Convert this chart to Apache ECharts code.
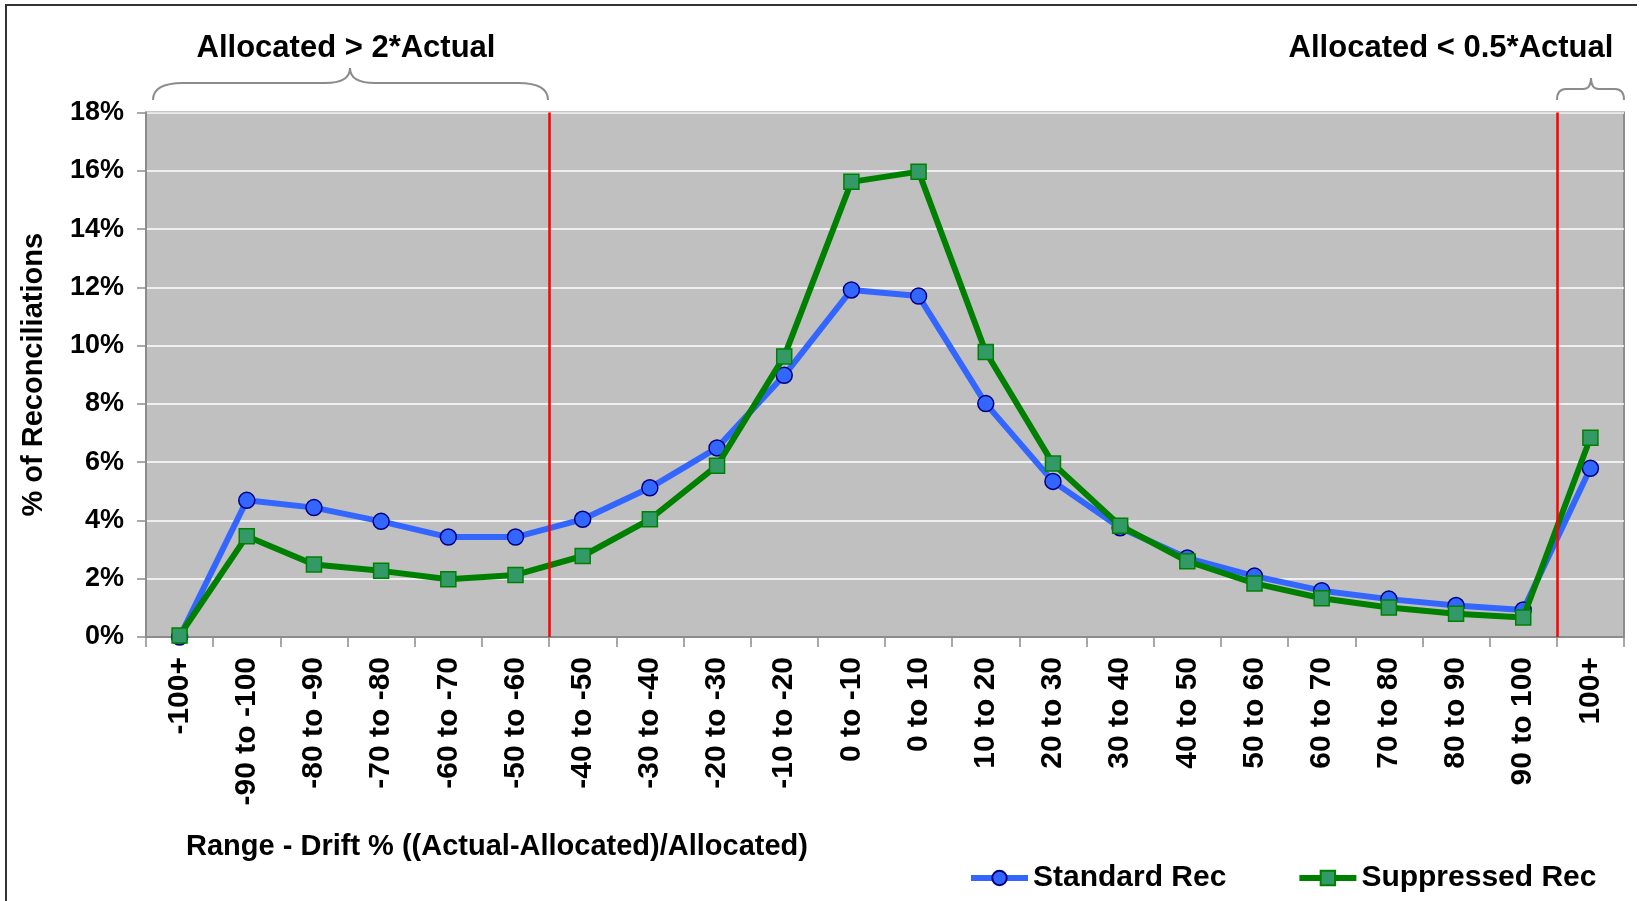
<!DOCTYPE html>
<html>
<head>
<meta charset="utf-8">
<script src="https://cdn.jsdelivr.net/npm/echarts@6/dist/echarts.min.js"></script>
<style>
  html, body { margin: 0; padding: 0; background: #ffffff; }
  #chart { width: 1648px; height: 901px; }
</style>
</head>
<body>
<div id="chart"></div>
<script>
// Drift ranges, as printed under the axis
const categories = [
  '-100+', '-90 to -100', '-80 to -90', '-70 to -80', '-60 to -70', '-50 to -60',
  '-40 to -50', '-30 to -40', '-20 to -30', '-10 to -20', '0 to -10', '0 to 10',
  '10 to 20', '20 to 30', '30 to 40', '40 to 50', '50 to 60', '60 to 70',
  '70 to 80', '80 to 90', '90 to 100', '100+'
];

// Share of reconciliations (%) per drift range
const standardRec = [
  0.0, 4.69, 4.44, 3.97, 3.43, 3.43, 4.04, 5.12, 6.49, 8.98, 11.91,
  11.70, 8.01, 5.34, 3.75, 2.71, 2.09, 1.59, 1.30, 1.08, 0.93, 5.79
];
const suppressedRec = [
  0.05, 3.46, 2.49, 2.27, 1.98, 2.13, 2.78, 4.04, 5.88, 9.63, 15.62,
  15.97, 9.78, 5.95, 3.82, 2.60, 1.84, 1.33, 1.01, 0.80, 0.67, 6.84
];

// Category boundaries where the threshold lines sit
// (after "-50 to -60" and after "90 to 100")
const thresholdBoundaries = [6, 21];

const annotations = ['Allocated > 2*Actual', 'Allocated < 0.5*Actual'];

const FONT = "'Liberation Sans', Arial, sans-serif";
const BRACE_STYLE = { stroke: '#8c8c8c', lineWidth: 2, fill: null };

// Curly brace built from quadratic curves and straight segments.
// x0/x1: ends, xm: tip, yb: end height, yh: bar height, yp: tip height,
// r: corner run at the ends, rt: run into the tip
function brace(x0, x1, xm, yb, yh, yp, r, rt) {
  const q = (xa, ya, cx, cy, xb, yb_) => ({
    type: 'bezierCurve', silent: true,
    shape: { x1: xa, y1: ya, cpx1: cx, cpy1: cy, x2: xb, y2: yb_ },
    style: BRACE_STYLE
  });
  const l = (xa, ya, xb, yb_) => ({
    type: 'line', silent: true,
    shape: { x1: xa, y1: ya, x2: xb, y2: yb_ },
    style: BRACE_STYLE
  });
  return [
    q(x0, yb, x0, yh, x0 + r, yh),
    l(x0 + r, yh, xm - rt, yh),
    q(xm - rt, yh, xm, yh, xm, yp),
    q(xm, yp, xm, yh, xm + rt, yh),
    l(xm + rt, yh, x1 - r, yh),
    q(x1 - r, yh, x1, yh, x1, yb)
  ];
}

const chart = echarts.init(document.getElementById('chart'), null, { renderer: 'canvas' });

const option = {
  backgroundColor: '#ffffff',
  animation: false,
  grid: {
    left: 146, top: 112.5, right: 24, bottom: 264,
    show: true, backgroundColor: '#c0c0c0', borderColor: '#8c8c8c', borderWidth: 2,
    containLabel: false
  },
  xAxis: [
    {
      type: 'category',
      data: categories,
      boundaryGap: true,
      axisLine: { show: true, lineStyle: { color: '#8c8c8c', width: 2 } },
      axisTick: { show: true, interval: 0, length: 10, lineStyle: { color: '#8c8c8c', width: 1.5 } },
      axisLabel: {
        interval: 0, rotate: 90, margin: 20,
        color: '#000', fontFamily: FONT, fontWeight: 'bold', fontSize: 30
      },
      splitLine: { show: false }
    },
    {
      // hidden helper axis for placing the threshold lines on category boundaries
      type: 'value', min: 0, max: categories.length, show: false
    }
  ],
  yAxis: {
    type: 'value', min: 0, max: 18, interval: 2,
    name: '% of Reconciliations', nameLocation: 'middle', nameRotate: 90, nameGap: 98,
    nameTextStyle: { color: '#000', fontFamily: FONT, fontWeight: 'bold', fontSize: 29 },
    axisLine: { show: true, lineStyle: { color: '#8c8c8c', width: 2 } },
    axisTick: { show: true, length: 9, lineStyle: { color: '#8c8c8c', width: 1.5 } },
    axisLabel: {
      formatter: '{value}%', margin: 22,
      color: '#000', fontFamily: FONT, fontWeight: 'bold', fontSize: 27
    },
    splitLine: { show: true, lineStyle: { color: '#ffffff', width: 1.5 } }
  },
  legend: {
    left: 963, top: 858,
    itemWidth: 57, itemHeight: 18, itemGap: 70,
    lineStyle: { width: 6 },
    textStyle: { color: '#000', fontFamily: FONT, fontWeight: 'bold', fontSize: 30 },
    data: ['Standard Rec', 'Suppressed Rec']
  },
  series: [
    {
      name: 'thresholds', type: 'line', xAxisIndex: 1, data: [],
      silent: true,
      markLine: {
        silent: true, symbol: ['none', 'none'], label: { show: false },
        lineStyle: { color: '#ff0000', width: 2.5, type: 'solid' },
        data: thresholdBoundaries.map(v => ({ xAxis: v }))
      }
    },
    {
      name: 'Standard Rec', type: 'line', data: standardRec,
      symbol: 'circle', symbolSize: 16,
      lineStyle: { color: '#3366ff', width: 6 },
      itemStyle: { color: '#3366ff', borderColor: '#000080', borderWidth: 1.5 },
      z: 3
    },
    {
      name: 'Suppressed Rec', type: 'line', data: suppressedRec,
      symbol: 'rect', symbolSize: 15,
      lineStyle: { color: '#008000', width: 6 },
      itemStyle: { color: '#339966', borderColor: '#008000', borderWidth: 1.5 },
      z: 4
    }
  ],
  graphic: [
    // outer frame (top and left edges)
    {
      type: 'polyline', silent: true,
      shape: { points: [[6, 901], [6, 5], [1637, 5]] },
      style: { stroke: '#333333', lineWidth: 2, fill: null }
    },
    ...brace(153, 548, 350, 100, 83, 68, 30, 25),
    ...brace(1557, 1624, 1591, 100, 89, 78, 9, 8),
    {
      type: 'text', silent: true, x: 346, y: 48,
      style: {
        text: annotations[0], fill: '#000', font: "bold 31px 'Liberation Sans', Arial, sans-serif",
        textAlign: 'center', textVerticalAlign: 'middle'
      }
    },
    {
      type: 'text', silent: true, x: 1451, y: 48,
      style: {
        text: annotations[1], fill: '#000', font: "bold 31px 'Liberation Sans', Arial, sans-serif",
        textAlign: 'center', textVerticalAlign: 'middle'
      }
    },
    {
      type: 'text', silent: true, x: 497, y: 847,
      style: {
        text: 'Range - Drift % ((Actual-Allocated)/Allocated)', fill: '#000',
        font: "bold 29px 'Liberation Sans', Arial, sans-serif",
        textAlign: 'center', textVerticalAlign: 'middle'
      }
    }
  ]
};

chart.setOption(option);
</script>
</body>
</html>
